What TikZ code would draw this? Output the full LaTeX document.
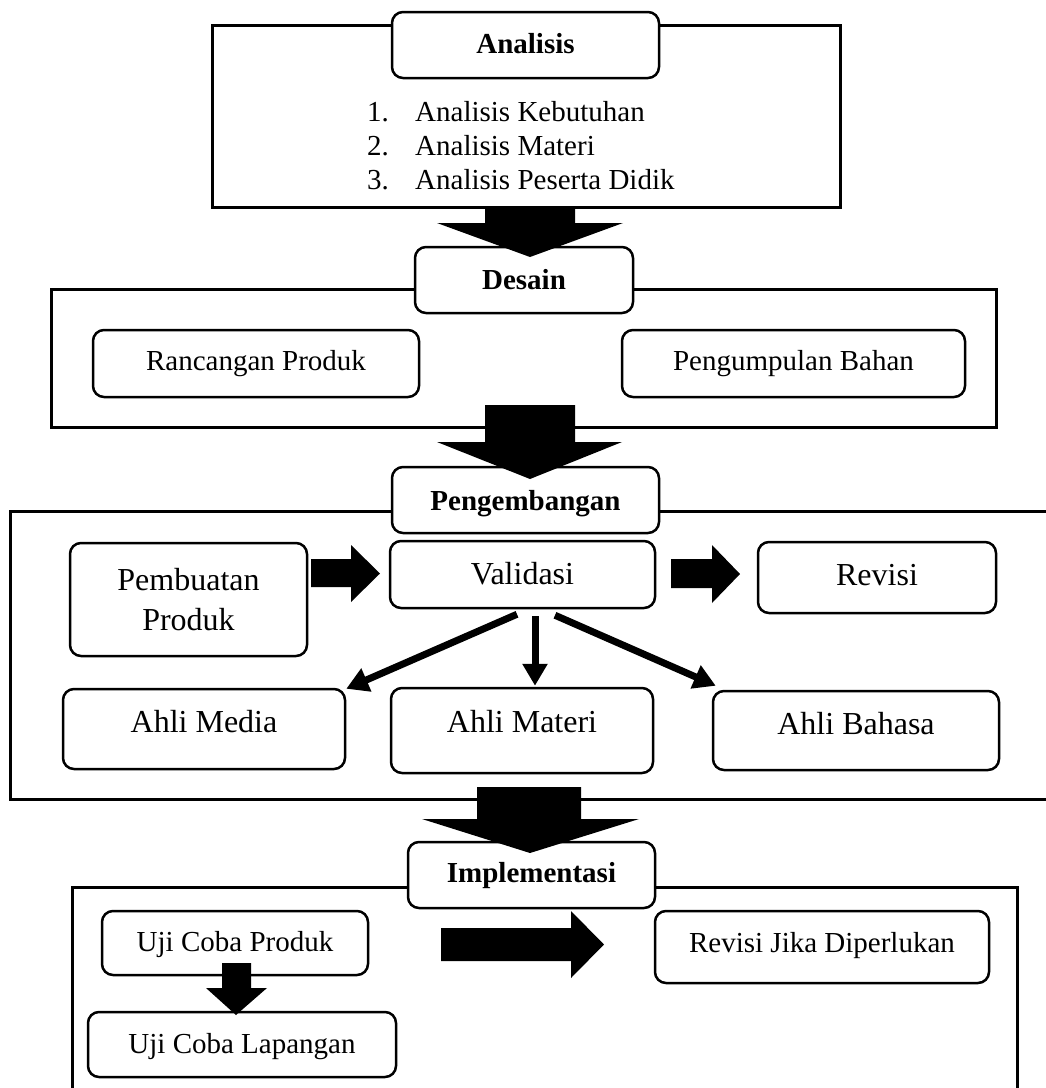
\documentclass[tikz,border=0pt]{standalone}
\usepackage{fontspec}
\setmainfont{Liberation Serif}
\usetikzlibrary{arrows.meta}
\begin{document}
\begin{tikzpicture}[x=1pt,y=-1pt,
  box/.style={draw, line width=2.5pt, rounded corners=11pt, fill=white, inner sep=0pt, font=\fontsize{29}{34}\selectfont},
  big/.style={box, font=\fontsize{32}{40}\selectfont},
  head/.style={box, font=\fontsize{29}{34}\selectfont\bfseries},
  frame/.style={draw, line width=3pt},
  blk/.style={fill=black},
  conn/.style={line width=7pt, -{Triangle[length=22pt,width=24pt]}},
  txt/.style={inner sep=0pt, anchor=base west, font=\fontsize{29}{34}\selectfont},
  bl/.style={/utils/exec={\pgfmathsetmacro\bh{20+#1}\pgfmathsetmacro\bd{20-#1}}, text height=\bh pt, text depth=\bd pt},
  sz/.style 2 args={minimum width=#1pt, minimum height=#2pt}
]
\useasboundingbox (0,0) rectangle (1046,1088);
\clip (0,0) rectangle (1046,1088);

% outer frames
\draw[frame] (212,25) rectangle (840,207);
\draw[frame] (51,289) rectangle (996,427);
\draw[frame] (10,511) rectangle (1060,799);
\draw[frame] (72,887) rectangle (1017,1100);

% Analisis
\node[head, sz={267}{66}, bl=8] (hA) at (525.5,45) {Analisis};
\node[txt] (n1) at (367,121) {1.};
\node[txt] (i1) at (415,121) {Analisis Kebutuhan};
\node[txt] (n2) at (367,155) {2.};
\node[txt] (i2) at (415,155) {Analisis Materi};
\node[txt] (n3) at (367,189) {3.};
\node[txt] (i3) at (415,189) {Analisis Peserta Didik};

% Desain
\node[head, sz={218}{66}, bl=9] (hD) at (524,280) {Desain};
\node[box, sz={326}{67}, bl=6.5] (rp) at (256,363.5) {Rancangan Produk};
\node[box, sz={343}{67}, bl=6.5] (pb) at (793.5,363.5) {Pengumpulan Bahan};

% Pengembangan
\node[head, sz={267}{66}, bl=10] (hP) at (525.5,500) {Pengembangan};
\node[big, sz={237}{113}, align=center] (pp) at (188.5,599.5) {Pembuatan\\Produk};
\node[big, sz={265}{67}, bl=9.5] (val) at (522.5,574.5) {Validasi};
\node[big, sz={238}{71}, bl=7.5] (rev) at (877,577.5) {Revisi};
\node[big, sz={282}{80}, bl=3] (media) at (204,729) {Ahli Media};
\node[big, sz={262}{85}, bl=1.5] (materi) at (522,730.5) {Ahli Materi};
\node[big, sz={286}{79}, bl=3.5] (bahasa) at (856,730.5) {Ahli Bahasa};

% Implementasi
\node[head, sz={247}{66}, bl=7] (hI) at (531.5,875) {Implementasi};
\node[box, sz={266}{64}, bl=8] (ucp) at (235,943) {Uji Coba Produk};
\node[box, sz={308}{65}, bl=8.5] (ucl) at (242,1044.5) {Uji Coba Lapangan};
\node[box, sz={334}{72}, bl=5] (rjd) at (822,947) {Revisi Jika Diperlukan};

% block arrows
\fill[blk] (485,207) -- (575,207) -- (575,223) -- (623,223) -- (530,257) -- (437,223) -- (485,223) -- cycle;
\fill[blk] (485,405) -- (575,405) -- (575,442) -- (622,442) -- (530,479) -- (437,442) -- (485,442) -- cycle;
\fill[blk] (477,787) -- (581,787) -- (581,819) -- (639,819) -- (530,853) -- (422,819) -- (477,819) -- cycle;
\fill[blk] (311,559) -- (351,559) -- (351,545) -- (380,573.5) -- (351,602) -- (351,587) -- (311,587) -- cycle;
\fill[blk] (671,559) -- (712,559) -- (712,545) -- (740,574) -- (712,603) -- (712,588) -- (671,588) -- cycle;
\fill[blk] (441,928) -- (571,928) -- (571,911) -- (604,944.5) -- (571,978) -- (571,961) -- (441,961) -- cycle;
\fill[blk] (222,963) -- (251,963) -- (251,988) -- (267,988) -- (236,1015) -- (206,988) -- (222,988) -- cycle;

% connectors from Validasi
\draw[conn] ([xshift=-5.5pt,yshift=-5pt]val.south) -- ([yshift=-1pt]media.north east);
\draw[conn] ([xshift=12.5pt,yshift=-7pt]val.south) -- ([xshift=13pt,yshift=1pt]materi.north);
\draw[conn] ([xshift=32.5pt,yshift=-6pt]val.south) -- ([xshift=4pt,yshift=4pt]bahasa.north west);
\end{tikzpicture}
\end{document}
